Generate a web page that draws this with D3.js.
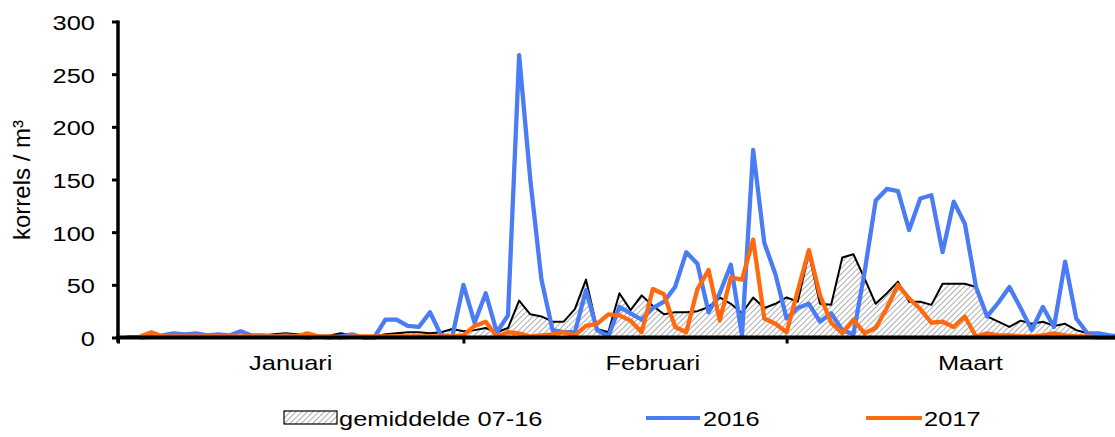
<!DOCTYPE html>
<html>
<head>
<meta charset="utf-8">
<script src="https://cdn.jsdelivr.net/npm/d3@7"></script>
<style>
  body { margin: 0; background: #fff; }
  text { font-family: "Liberation Sans", Arial, sans-serif; fill: #000; }
</style>
</head>
<body>
<div class="chart"></div>
<script>
// data: one value per day, index 0 = 1 januari
const months = ["Januari", "Februari", "Maart"]
const monthStart = [0, 31, 60]
const monthLabelAt = [15.5, 48, 76.5]
const yTicks = [0, 50, 100, 150, 200, 250, 300]
const legendLabels = ["gemiddelde 07-16", "2016", "2017"]

const gemiddelde = [
  0, 1, 1, 2, 1, 1, 1, 1, 1, 1,
  1, 1, 1, 2, 3, 4, 3, 2, 1, 2,
  4, 2, 1, 1, 3, 4, 5, 5, 4, 5,
  8, 6, 7, 9, 5, 9, 35, 22, 20, 15,
  15, 27, 55, 8, 5, 42, 26, 40, 30, 22,
  24, 24, 25, 29, 38, 32, 23, 38, 28, 32,
  38, 34, 80, 32, 31, 76, 79, 56, 32, 42,
  53, 34, 34, 31, 51, 51, 51, 48, 20, 15,
  10, 16, 13, 15, 11, 13, 7, 4, 2, 1, 1]

const y2016 = [
  null, null, 0, 1, 2, 4, 3, 4, 2, 3,
  2, 6, 2, 2, 1, 2, 1, 0, 1, 0,
  1, 3, 0, 0, 17, 17, 11, 10, 24, 2,
  1, 50, 14, 42, 5, 21, 268, 150, 55, 7,
  5, 5, 45, 7, 1, 29, 23, 17, 28, 34,
  48, 81, 70, 24, 42, 69, 2, 178, 90, 60,
  18, 28, 32, 15, 23, 7, 3, 62, 130, 141,
  139, 102, 132, 135, 81, 129, 108, 48, 20, 33,
  48, 28, 7, 29, 10, 72, 18, 4, 4, 2, 1]

const y2017 = [
  null, null, 1, 5, 1, 1, 1, 1, 1, 1,
  1, 1, 1, 1, 1, 1, 1, 4, 1, 1,
  0, 1, 1, 1, 1, 1, 1, 1, 1, 1,
  1, 2, 11, 15, 1, 5, 4, 1, 2, 3,
  5, 2, 11, 13, 22, 21, 16, 5, 46, 41,
  10, 5, 46, 64, 16, 57, 55, 93, 18, 13,
  5, 44, 83, 40, 14, 4, 17, 4, 9, 28,
  50, 37, 27, 14, 15, 10, 20, 1, 4, 2,
  2, 1, 1, 2, 4, 2, 1, 1, 0, 0, 0]

const width = 1115
const height = 437
const margin = ({ top: 21.5, left: 118, bottom: 337.5 })
const blue = "#4a7cf5"
const orange = "#ff6a10"
const stretch = 1.24   // the original text is drawn wider than it is tall

const svg = d3.select(".chart")
  .append("svg")
  .attr("width", width)
  .attr("height", height)

// hatch for the average area
svg.append("defs").append("pattern")
  .attr("id", "hatch")
  .attr("patternUnits", "userSpaceOnUse")
  .attr("width", 4)
  .attr("height", 4)
  .attr("patternTransform", "rotate(45)")
  .append("line")
  .attr("x1", 0).attr("y1", 0)
  .attr("x2", 0).attr("y2", 4)
  .attr("stroke", "#666")
  .attr("stroke-width", 1.1)

// scales: 91 days over 1014 px
const x = d3.scaleLinear()
  .domain([0, 91])
  .range([margin.left, 1132])

const y = d3.scaleLinear()
  .domain([0, 300])
  .range([margin.bottom, margin.top])

// average: hatched area + thin black line
const area = d3.area()
  .x((d, i) => x(i))
  .y0(y(0))
  .y1(d => y(d))

svg.append("path")
  .datum(gemiddelde)
  .attr("d", area)
  .attr("fill", "url(#hatch)")

const line = d3.line()
  .defined(d => d != null)
  .x((d, i) => x(i))
  .y(d => y(d))

svg.append("path")
  .datum(gemiddelde)
  .attr("d", line)
  .attr("fill", "none")
  .attr("stroke", "#000")
  .attr("stroke-width", 2)
  .attr("stroke-linejoin", "round")

// 2016 and 2017
svg.append("path")
  .datum(y2016)
  .attr("d", line)
  .attr("fill", "none")
  .attr("stroke", blue)
  .attr("stroke-width", 4.3)
  .attr("stroke-linejoin", "round")

svg.append("path")
  .datum(y2017)
  .attr("d", line)
  .attr("fill", "none")
  .attr("stroke", orange)
  .attr("stroke-width", 4.3)
  .attr("stroke-linejoin", "round")

// y axis
const yAxis = svg.append("g")
  .attr("transform", "translate(" + margin.left + ",0)")
  .call(d3.axisLeft(y).tickValues(yTicks).tickSize(6).tickSizeOuter(0))

yAxis.select(".domain")
  .attr("stroke-width", 3.5)
  .attr("d", "M0," + (margin.top - 1) + "V" + (margin.bottom + 5))
yAxis.selectAll(".tick line").attr("stroke-width", 3)
yAxis.selectAll(".tick text")
  .attr("x", null)
  .attr("dy", null)
  .attr("dominant-baseline", "central")
  .attr("transform", "translate(-23,1) scale(" + stretch + ",1)")
  .attr("text-anchor", "end")
  .style("font-size", "20.5px")
  .style("font-family", "'Liberation Sans', Arial, sans-serif")

// x axis: month boundaries
const xAxis = svg.append("g")
  .attr("transform", "translate(0," + margin.bottom + ")")
  .call(d3.axisBottom(x).tickValues(monthStart).tickSize(6).tickSizeOuter(0).tickFormat(""))

xAxis.select(".domain")
  .attr("stroke-width", 4)
  .attr("d", "M" + (margin.left - 2) + ",0H" + width)
xAxis.selectAll(".tick line").attr("stroke-width", 3)

svg.append("g")
  .selectAll("text")
  .data(months)
  .join("text")
  .attr("transform", (d, i) => "translate(" + x(monthLabelAt[i]) + ",370) scale(" + stretch + ",1)")
  .attr("text-anchor", "middle")
  .style("font-size", "20.5px")
  .text(d => d)

// y title
svg.append("text")
  .attr("transform", "translate(30,180) rotate(-90)")
  .attr("text-anchor", "middle")
  .style("font-size", "24px")
  .text("korrels / m³")

// legend
const legend = svg.append("g")

legend.append("rect")
  .attr("x", 284).attr("y", 411)
  .attr("width", 53).attr("height", 13)
  .attr("fill", "url(#hatch)")
  .attr("stroke", "#000")
  .attr("stroke-width", 1.2)

legend.append("line")
  .attr("x1", 646).attr("x2", 700)
  .attr("y1", 418).attr("y2", 418)
  .attr("stroke", blue).attr("stroke-width", 4)

legend.append("line")
  .attr("x1", 866).attr("x2", 922)
  .attr("y1", 418).attr("y2", 418)
  .attr("stroke", orange).attr("stroke-width", 4)

legend.selectAll("text")
  .data(legendLabels)
  .join("text")
  .attr("transform", (d, i) => "translate(" + [339, 703, 924][i] + ",426) scale(" + stretch + ",1)")
  .style("font-size", "20.5px")
  .text(d => d)
</script>
</body>
</html>
